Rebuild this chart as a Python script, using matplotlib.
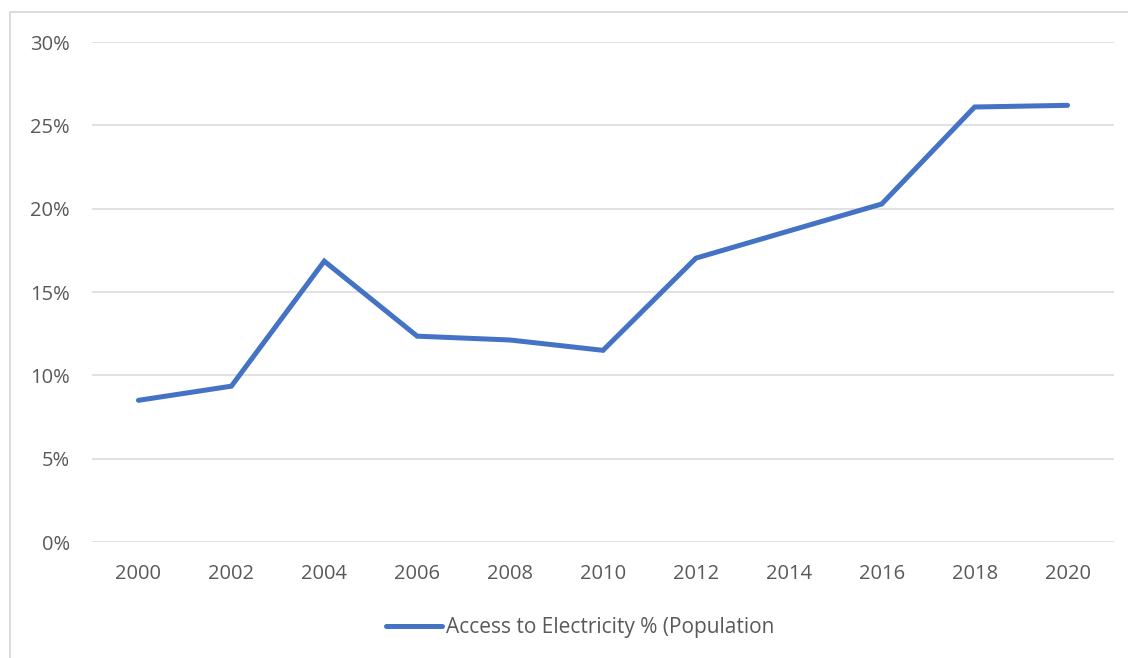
import matplotlib
matplotlib.use("Agg")
import matplotlib.pyplot as plt
from matplotlib.patches import Rectangle
from matplotlib.ticker import FuncFormatter

years = ["2000", "2002", "2004", "2006", "2008", "2010", "2012", "2014", "2016", "2018", "2020"]
access_pct = [8.5, 9.35, 16.85, 12.35, 12.12, 11.5, 17.03, 18.66, 20.28, 26.1, 26.2]
series_name = "Access to Electricity % (Population"
y_ticks = [0, 5, 10, 15, 20, 25, 30]

plt.rcParams['font.family'] = ['Open Sans', 'DejaVu Sans']
text_color = "#595959"
grid_color = "#D9D9D9"
line_color = "#4472C4"

W, H = 1128, 658
fig = plt.figure(figsize=(W / 100, H / 100), dpi=100)
ax = fig.add_axes([92 / W, 1 - 542 / H, (1114 - 92) / W, (542 - 42) / H])

x = list(range(len(years)))
ax.plot(x, access_pct, color=line_color, linewidth=3.6, solid_capstyle='round',
        solid_joinstyle='miter', label=series_name, zorder=3)

ax.set_xlim(-0.5, len(years) - 0.5)
ax.set_ylim(0, 30)
ax.set_yticks(y_ticks)
ax.yaxis.set_major_formatter(FuncFormatter(lambda v, p: f"{int(v)}%"))
ax.set_xticks(x)
ax.set_xticklabels(years)
ax.grid(axis='y', color=grid_color, linewidth=1.1)
ax.set_axisbelow(True)
for s in ax.spines.values():
    s.set_visible(False)
ax.tick_params(axis='both', length=0, colors=text_color, labelsize=14.5)
ax.tick_params(axis='y', pad=16)
ax.tick_params(axis='x', pad=16)

leg = fig.legend(loc='center', bbox_to_anchor=(580 / W, 1 - 628 / H), frameon=False,
                 fontsize=15, handlelength=2.7, handletextpad=0.15)
for t in leg.get_texts():
    t.set_color(text_color)

fig.patches.append(Rectangle((10 / W, -0.05), 1.2, (1 - 12 / H) + 0.05,
                             transform=fig.transFigure, fill=False,
                             edgecolor=grid_color, linewidth=1.3))

fig.savefig("out.png", dpi=100, facecolor="white")
